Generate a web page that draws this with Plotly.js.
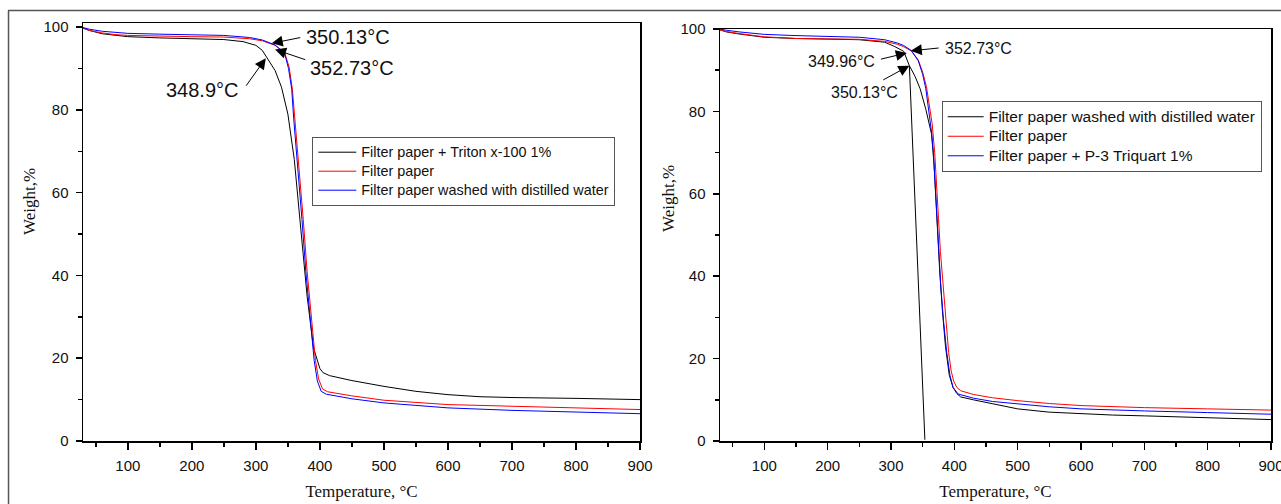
<!DOCTYPE html>
<html>
<head>
<meta charset="utf-8">
<script src="https://cdn.plot.ly/plotly-3.0.1.min.js"></script>
<style>
html,body{margin:0;padding:0;background:#fff;}
#chart{width:1281px;height:504px;}
</style>
</head>
<body>
<div id="chart"></div>
<script>
// ---------- Left panel data ----------
const leftTritonT = [30, 40, 60, 80, 100, 150, 200, 250, 280, 300, 310, 318, 330, 340, 350, 360, 370, 380, 390, 400, 405, 415, 450, 500, 550, 600, 650, 700, 800, 900];
const leftTritonW = [99.8, 99.2, 98.4, 98.0, 97.7, 97.4, 97.2, 97.0, 96.5, 95.6, 94.4, 92.5, 89.5, 85.5, 79, 68, 52, 35, 22.5, 17.5, 16.5, 15.8, 14.6, 13.2, 12.0, 11.2, 10.7, 10.5, 10.3, 10.0];

const leftPaperT = [30, 40, 60, 80, 100, 150, 200, 250, 290, 310, 330, 345, 352, 357, 361, 365, 369, 374, 380, 387, 393, 398, 404, 412, 450, 500, 550, 600, 700, 800, 900];
const leftPaperW = [99.7, 99.2, 98.6, 98.2, 98.0, 97.8, 97.7, 97.6, 97.2, 96.7, 95.6, 93.8, 90.3, 85, 78, 71, 64, 53.5, 41, 29, 19.5, 15, 12.6, 11.9, 10.9, 9.85, 9.3, 8.8, 8.4, 8.0, 7.6];

const leftWashedT = [30, 40, 60, 80, 100, 150, 200, 250, 290, 310, 330, 345, 351, 356, 359, 363, 367, 372, 378, 385, 391, 396, 402, 410, 450, 500, 550, 600, 700, 800, 900];
const leftWashedW = [99.9, 99.5, 99.0, 98.7, 98.5, 98.3, 98.2, 98.0, 97.5, 96.9, 95.7, 93.6, 90, 85, 78, 71, 64, 53.5, 41, 29, 19.5, 14.5, 12.0, 11.3, 10.2, 9.2, 8.6, 8.0, 7.4, 7.0, 6.6];

// ---------- Right panel data ----------
// main curve, then a gap (null), then the straight drop segment
const rightWashedT = [30, 40, 60, 100, 150, 200, 250, 290, 305, 320, 329, 338, 346, 355, 364, 368, 371, 374, 377, 381, 386, 392, 398, 404, 410, 430, 460, 500, 550, 600, 650, 700, 800, 900, null, 329, 353.5];
const rightWashedW = [99.8, 99.3, 98.8, 98.0, 97.7, 97.6, 97.4, 96.8, 95.8, 94.6, 91.1, 88.5, 85.5, 80.5, 74.5, 67, 58, 49, 41, 32, 23, 16, 13, 11.5, 10.7, 10.0, 9.0, 7.8, 7.0, 6.6, 6.3, 6.1, 5.7, 5.2, null, 91.1, 0.3];

const rightPaperT = [30, 40, 60, 100, 150, 200, 250, 290, 310, 320, 332, 343, 350, 356, 361, 365, 369, 372, 375, 378, 382, 386, 391, 395, 399, 404, 410, 430, 460, 500, 550, 600, 650, 700, 800, 900];
const rightPaperW = [99.8, 99.4, 98.9, 98.1, 97.7, 97.6, 97.5, 97.0, 96.3, 95.7, 94.7, 92.5, 89.5, 86, 81, 77, 70, 63, 54, 46, 38, 30, 21.5, 17, 14.5, 13, 12.2, 11.3, 10.5, 9.8, 9.1, 8.6, 8.3, 8.1, 7.8, 7.5];

const rightTriquartT = [30, 40, 60, 100, 150, 200, 250, 290, 310, 320, 332, 343, 350, 355, 360, 364, 367, 370, 372.3, 375, 378.6, 383, 388, 393, 398, 406, 430, 460, 500, 550, 600, 650, 700, 800, 900];
const rightTriquartW = [100, 99.7, 99.3, 98.7, 98.4, 98.2, 98.0, 97.4, 96.6, 96.0, 94.8, 92.3, 89, 85.5, 80, 75, 69.9, 62, 53.8, 46, 37.6, 29, 21.5, 16, 13, 11.4, 10.4, 9.6, 9.0, 8.3, 7.8, 7.5, 7.3, 6.9, 6.5];

// ---------- Labels ----------
const leftNames = ['Filter paper + Triton x-100 1%', 'Filter paper', 'Filter paper washed with distilled water'];
const rightNames = ['Filter paper washed with distilled water', 'Filter paper', 'Filter paper + P-3 Triquart 1%'];
const leftAnnTexts = ['350.13°C', '352.73°C', '348.9°C'];
const rightAnnTexts = ['352.73°C', '349.96°C', '350.13°C'];
const xTickVals = [100, 200, 300, 400, 500, 600, 700, 800, 900];
const yTickVals = [0, 20, 40, 60, 80, 100];

const SANS = 'Liberation Sans, Arial, sans-serif';
const SERIF = 'Liberation Serif, Times New Roman, serif';
const colors = ['#000000', '#ff0000', '#0000ff'];

function tr(x, y, name, color, xa, ya, legend, fs) {
  return {x: x, y: y, name: '<span style="font-size:' + fs + 'px">' + name + '</span>',
    type: 'scatter', mode: 'lines',
    line: {color: color, width: 1}, xaxis: xa, yaxis: ya, legend: legend,
    connectgaps: false, hoverinfo: 'skip'};
}

const data = [
  tr(leftTritonT, leftTritonW, leftNames[0], colors[0], 'x', 'y', 'legend', 14.4),
  tr(leftPaperT, leftPaperW, leftNames[1], colors[1], 'x', 'y', 'legend', 14.4),
  tr(leftWashedT, leftWashedW, leftNames[2], colors[2], 'x', 'y', 'legend', 14.4),
  tr(rightWashedT, rightWashedW, rightNames[0], colors[0], 'x2', 'y2', 'legend2', 15.5),
  tr(rightPaperT, rightPaperW, rightNames[1], colors[1], 'x2', 'y2', 'legend2', 15.5),
  tr(rightTriquartT, rightTriquartW, rightNames[2], colors[2], 'x2', 'y2', 'legend2', 15.5)
];

function xaxis(domain, anchor) {
  return {domain: domain, anchor: anchor, range: [30, 900], showgrid: false, zeroline: false,
    showline: true, mirror: true, linecolor: '#000', linewidth: 1.5,
    ticks: 'outside', ticklen: 7, tickwidth: 1.5, tickcolor: '#000',
    tickvals: xTickVals, ticklabelstandoff: 3, ticklabeloverflow: 'allow',
    minor: {dtick: 50, tick0: 0, ticks: 'outside', ticklen: 4, tickwidth: 1.5, tickcolor: '#000'},
    tickfont: {family: SANS, size: 15, color: '#111'},
    title: {text: 'Temperature, °C', font: {family: SERIF, size: 17, color: '#111'}, standoff: 12}};
}
function yaxis(domain, anchor, range) {
  return {domain: domain, anchor: anchor, range: range, showgrid: false, zeroline: false,
    showline: true, mirror: true, linecolor: '#000', linewidth: 1.5,
    ticks: 'outside', ticklen: 6, tickwidth: 1.5, tickcolor: '#000',
    tickvals: yTickVals, ticklabelstandoff: 4,
    minor: {dtick: 10, tick0: 0, ticks: 'outside', ticklen: 4, tickwidth: 1.5, tickcolor: '#000'},
    tickfont: {family: SANS, size: 15, color: '#111'}};
}

function arrow(xr, yr, x, y, ax, ay) {
  return {xref: xr, yref: yr, x: x, y: y, ax: ax, ay: ay, text: '', showarrow: true,
    arrowhead: 2, arrowsize: 2.2, arrowwidth: 1, arrowcolor: '#000', standoff: 0, startstandoff: 0};
}
function label(xr, yr, x, y, text, size) {
  return {xref: xr, yref: yr, x: x, y: y, text: text, showarrow: false,
    font: {family: SANS, size: size, color: '#111'}, xanchor: 'center', yanchor: 'middle'};
}

const annotations = [
  arrow('x', 'y', 324.8, 96.1, 30, -6),
  arrow('x', 'y', 330, 94.6, 31.7, 10.7),
  arrow('x', 'y', 315.5, 92.5, -20.7, 29),
  label('x', 'y', 443.3, 97.5, leftAnnTexts[0], 20),
  label('x', 'y', 450.3, 90.2, leftAnnTexts[1], 20),
  label('x', 'y', 215.9, 84.8, leftAnnTexts[2], 20),
  arrow('x2', 'y2', 331.3, 94.7, 29.3, -3),
  arrow('x2', 'y2', 325, 94.2, -27.4, 6.6),
  arrow('x2', 'y2', 329, 91.1, -27.6, 15),
  label('x2', 'y2', 438, 95.3, rightAnnTexts[0], 16),
  label('x2', 'y2', 221.1, 92.1, rightAnnTexts[1], 16),
  label('x2', 'y2', 258.3, 84.7, rightAnnTexts[2], 16),
  {xref: 'paper', yref: 'paper', x: -0.0446, y: 0.5718, text: 'Weight,%', textangle: -90, showarrow: false,
    font: {family: SERIF, size: 17, color: '#111'}, xanchor: 'center', yanchor: 'middle'},
  {xref: 'paper', yref: 'paper', x: 0.4924, y: 0.5813, text: 'Weight,%', textangle: -90, showarrow: false,
    font: {family: SERIF, size: 17, color: '#111'}, xanchor: 'center', yanchor: 'middle'}
];

const layout = {
  width: 1281, height: 504,
  margin: {l: 83, r: 10, t: 23, b: 63, autoexpand: false},
  paper_bgcolor: '#fff', plot_bgcolor: '#fff',
  showlegend: true,
  xaxis: xaxis([0, 0.4689], 'y'),
  yaxis: yaxis([0, 1], 'x', [0, 101]),
  xaxis2: xaxis([0.5362, 1], 'y2'),
  yaxis2: yaxis([0, 0.9856], 'x2', [0, 100]),
  legend: {x: 0.193, y: 0.728, xanchor: 'left', yanchor: 'top', bgcolor: '#fff',
    bordercolor: '#555', borderwidth: 1, font: {family: SANS, size: 11.5, color: '#111'},
    itemwidth: 38, tracegroupgap: 0},
  legend2: {x: 0.7228, y: 0.8134, xanchor: 'left', yanchor: 'top', bgcolor: '#fff',
    bordercolor: '#555', borderwidth: 1, font: {family: SANS, size: 12.7, color: '#111'},
    itemwidth: 36, tracegroupgap: 0},
  annotations: annotations,
  shapes: [
    {type: 'line', xref: 'paper', yref: 'paper', x0: -0.0631, x1: 1.0084, y0: 1.0299, y1: 1.0299,
      line: {color: '#555', width: 1.5}},
    {type: 'line', xref: 'paper', yref: 'paper', x0: -0.0627, x1: -0.0627, y0: 1.0299, y1: -0.1507,
      line: {color: '#555', width: 1.5}}
  ]
};

Plotly.newPlot('chart', data, layout, {displayModeBar: false, staticPlot: true});
</script>
</body>
</html>
